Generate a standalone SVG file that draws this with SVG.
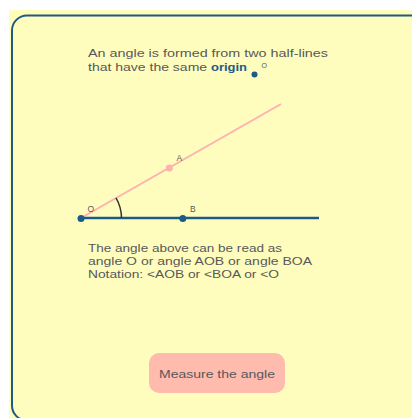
<svg xmlns="http://www.w3.org/2000/svg" width="412" height="418" viewBox="0 0 412 418">
  <style>
    .t { font-family: "Liberation Sans", Arial, sans-serif; font-size: 11.6px; fill: #58585a; }
    .lbl { font-family: "Liberation Sans", Arial, sans-serif; font-size: 8.5px; fill: #58585a; }
    .o { font-weight: bold; fill: #1d5b87; }
    .blue { fill: #1d5b87; }
  </style>
  <rect x="0" y="0" width="412" height="418" fill="#ffffff"/>
  <rect x="9" y="10" width="403" height="408" fill="#fffdbd"/>
  <g id="card">
    <rect x="12" y="15.5" width="420" height="405" rx="15" ry="15" fill="#fffdbd" stroke="#1d5b87" stroke-width="2"/>
  </g>
  <g id="intro">
    <text class="t" x="88" y="57" textLength="240" lengthAdjust="spacingAndGlyphs">An angle is formed from two half-lines</text>
    <text class="t" x="88" y="71"><tspan textLength="123" lengthAdjust="spacingAndGlyphs">that have the same </tspan><tspan class="o" textLength="36" lengthAdjust="spacingAndGlyphs">origin</tspan></text>
    <circle class="blue" cx="254.5" cy="74.5" r="3"/>
    <text class="lbl" x="261.5" y="67.5" style="font-size:7px">O</text>
  </g>
  <g id="connectors">
    <line x1="81" y1="218" x2="281" y2="104" stroke="#ffb0b0" stroke-width="2"/>
    <line x1="81" y1="218" x2="319" y2="218" stroke="#1d5b87" stroke-width="2.5"/>
    <path d="M 121.5 218 A 40.5 40.5 0 0 0 116 197.8" fill="none" stroke="#333333" stroke-width="1.5"/>
  </g>
  <g id="point-O">
    <circle class="blue" cx="81" cy="218.5" r="3.5"/>
    <text class="lbl" x="87.5" y="212">O</text>
  </g>
  <g id="point-A">
    <circle cx="169.3" cy="168" r="3.5" fill="#ffb0b0"/>
    <text class="lbl" x="176.5" y="161">A</text>
  </g>
  <g id="point-B">
    <circle class="blue" cx="182.8" cy="218.5" r="3.5"/>
    <text class="lbl" x="190" y="212">B</text>
  </g>
  <g id="explanation">
    <text class="t" x="88" y="252" textLength="194" lengthAdjust="spacingAndGlyphs">The angle above can be read as</text>
    <text class="t" x="88" y="265" textLength="224" lengthAdjust="spacingAndGlyphs">angle O or angle AOB or angle BOA</text>
    <text class="t" x="88" y="278" textLength="191" lengthAdjust="spacingAndGlyphs">Notation: &lt;AOB or &lt;BOA or &lt;O</text>
  </g>
  <g id="measure-button">
    <rect x="149" y="353" width="136" height="40" rx="10" ry="10" fill="#ffbbad"/>
    <text class="t" x="217" y="378" text-anchor="middle" textLength="116" lengthAdjust="spacingAndGlyphs">Measure the angle</text>
  </g>
</svg>
